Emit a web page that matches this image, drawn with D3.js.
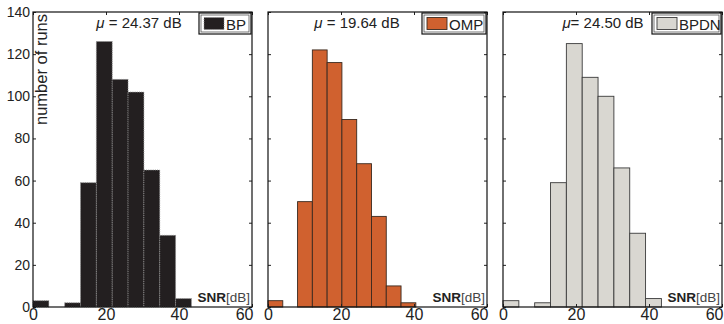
<!DOCTYPE html>
<html><head><meta charset="utf-8">
<script src="https://cdn.jsdelivr.net/npm/d3@7"></script>
<style>body{margin:0;background:#fff;}svg{display:block;font-family:"Liberation Sans",Arial,sans-serif;}</style>
</head><body>
<svg id="c" width="724" height="324"></svg>
<script>
const methods = ["BP", "OMP", "BPDN"];
const meanLabels = ["24.37 dB", "19.64 dB", "24.50 dB"];
const binWidths = [4.34, 4.05, 4.34];
const countsBP = [3, 0, 2, 59, 126, 108, 102, 65, 34, 4];
const countsOMP = [3, 0, 50, 122, 116, 89, 68, 43, 10, 2];
const countsBPDN = [3, 0, 2, 59, 125, 109, 100, 66, 35, 4];
const xTicks = [0, 20, 40, 60];
const yTicks = [0, 20, 40, 60, 80, 100, 120, 140];

const allCounts = [countsBP, countsOMP, countsBPDN];
const fills = ["#231f20", "#d0612f", "#d9d7d1"];
const strokes = ["#8a8a8a", "#3a2a20", "#3a3a3a"];
const dashes = ["1,1.2", null, null];
const panelX = [33, 268, 503];
const W = 219, plotTop = 12, plotBottom = 307;
const muSpace = [" ", " ", ""];
const muCx = [106, 89, 100];
const legW = [52, 64, 69];

const svg = d3.select("#c");
const y = d3.scaleLinear().domain([0, 140]).range([plotBottom, plotTop]);

methods.forEach((m, i) => {
  const g = svg.append("g").attr("transform", `translate(${panelX[i]},0)`);
  const x = d3.scaleLinear().domain([0, 60]).range([0, W]);
  const bins = allCounts[i].map((c, k) => ({x0: k * binWidths[i], x1: (k + 1) * binWidths[i], c}));
  g.selectAll("rect.bar").data(bins.filter(d => d.c > 0)).join("rect")
    .attr("class", "bar")
    .attr("x", d => x(d.x0)).attr("width", d => x(d.x1) - x(d.x0))
    .attr("y", d => y(d.c)).attr("height", d => y(0) - y(d.c))
    .attr("fill", fills[i]).attr("stroke", strokes[i]).attr("stroke-width", 0.9)
    .attr("stroke-dasharray", dashes[i]);

  const ax = d3.axisBottom(x).tickValues(xTicks).tickSize(-3).tickPadding(2);
  const gx = g.append("g").attr("transform", `translate(0,${plotBottom})`).call(ax);
  gx.selectAll("text").attr("font-size", 16).attr("fill", "#222").attr("dy", "0.71em");
  gx.selectAll("text").filter(d => d === 60).attr("text-anchor", "end").attr("dx", 1);
  const axT = d3.axisTop(x).tickValues(xTicks).tickSize(-3).tickFormat("");
  g.append("g").attr("transform", `translate(0,${plotTop})`).call(axT);
  const ay = d3.axisLeft(y).tickValues(yTicks).tickSize(-3).tickPadding(3);
  const gy = g.append("g").call(ay);
  if (i === 0) gy.selectAll("text").attr("font-size", 14).attr("fill", "#222");
  else gy.selectAll("text").remove();
  const ayR = d3.axisRight(y).tickValues(yTicks).tickSize(-3).tickFormat("");
  g.append("g").attr("transform", `translate(${W},0)`).call(ayR);
  svg.selectAll(".domain").remove();
  g.selectAll(".tick line").attr("stroke", "#222");
  g.append("rect").attr("x", 0).attr("y", plotTop).attr("width", W).attr("height", plotBottom - plotTop)
    .attr("fill", "none").attr("stroke", "#111").attr("stroke-width", 1.2);

  const t = g.append("text").attr("x", muCx[i]).attr("y", 28).attr("text-anchor", "middle")
    .attr("font-size", 15).attr("fill", "#222");
  t.append("tspan").attr("font-style", "italic").text("μ");
  t.append("tspan").text(muSpace[i] + "= " + meanLabels[i]);

  const lx = W - 1 - legW[i], ly = 13, lh = 21;
  const lg = g.append("g");
  lg.append("rect").attr("x", lx).attr("y", ly).attr("width", legW[i]).attr("height", lh)
    .attr("fill", "#fff").attr("stroke", "#111").attr("stroke-width", 1.2);
  lg.append("rect").attr("x", lx + 2).attr("y", ly + 2).attr("width", legW[i] - 4).attr("height", lh - 4)
    .attr("fill", "none").attr("stroke", "#555").attr("stroke-width", 0.8);
  lg.append("rect").attr("x", lx + 5).attr("y", ly + 4.5).attr("width", 20).attr("height", 12)
    .attr("fill", fills[i]).attr("stroke", strokes[i]).attr("stroke-width", 0.9)
    .attr("stroke-dasharray", dashes[i]);
  lg.append("text").attr("x", lx + 27).attr("y", ly + 16.5).attr("font-size", 15).attr("fill", "#222").text(m);

  const xl = g.append("text").attr("x", W - 2).attr("y", 302).attr("text-anchor", "end")
    .attr("font-size", 13.5).attr("fill", "#222");
  xl.append("tspan").attr("font-weight", "bold").text("SNR");
  xl.append("tspan").attr("fill", "#444").text("[dB]");

  if (i === 0) {
    g.append("text").attr("transform", `translate(14,14) rotate(-90)`).attr("text-anchor", "end")
      .attr("font-size", 16.5).attr("fill", "#222").text("number of runs");
  }
});
</script>
</body></html>
